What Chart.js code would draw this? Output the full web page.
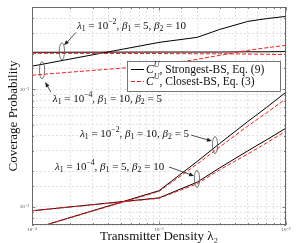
<!DOCTYPE html>
<html lang="en">
<head>
    <meta charset="UTF-8">
    <title>Coverage Probability vs Transmitter Density</title>
    <script src="https://cdn.jsdelivr.net/npm/chart.js"></script>
    <style>
        body { margin: 0; background: #fff; }
        #wrap { width: 299px; height: 243px; }
    </style>
</head>
<body>
    <div id="wrap"><canvas id="coverageChart"></canvas></div>
    <script>
        // transmitter density lambda_2 (x axis)
        const lambda2 = [1e-4, 1e-3, 2e-3, 3e-3, 5e-3, 7e-3, 1e-2];

        // lambda1 = 1e-2, beta1 = 5, beta2 = 10
        const strongA = [0.206, 0.207, 0.207, 0.207, 0.208, 0.208, 0.209];
        const closestA = [0.202, 0.201, 0.200, 0.200, 0.199, 0.198, 0.197];
        // lambda1 = 1e-4, beta1 = 10, beta2 = 5
        const strongB = [0.157, 0.250, 0.276, 0.322, 0.377, 0.398, 0.416];
        const closestB = [0.1315, 0.160, 0.1795, 0.194, 0.214, 0.225, 0.236];
        // lambda1 = 1e-2, beta1 = 10, beta2 = 5
        const strongC = [0.00646, 0.0137, 0.0243, 0.0345, 0.0531, 0.0697, 0.0944];
        const closestC = [0.00646, 0.0135, 0.0231, 0.0322, 0.0486, 0.0627, 0.0831];
        // lambda1 = 1e-4, beta1 = 5, beta2 = 10
        const strongD = [0.00925, 0.0119, 0.0162, 0.0214, 0.0299, 0.0370, 0.0467];
        const closestD = [0.00925, 0.0118, 0.0157, 0.0206, 0.0281, 0.0348, 0.0441];

        const legendLabels = ['*C*^{*U*}, Strongest-BS, Eq. (9)', '*C*^{*U*}, Closest-BS, Eq. (3)'];

        // curve labels: text anchor, arrow tail, arrow tip, ellipse centre (data coords)
        const notes = [
            { text: '*λ*_1 = 10^{-2}, *β*_1 = 5, *β*_2 = 10', at: [2.26e-4, 0.342], from: [2.22e-4, 0.304], to: [1.79e-4, 0.236], ring: [1.72e-4, 0.21] },
            { text: '*λ*_1 = 10^{-4}, *β*_1 = 10, *β*_2 = 5', at: [1.46e-4, 0.0823], from: [1.41e-4, 0.0944], to: [1.27e-4, 0.115], ring: [1.2e-4, 0.145] },
            { text: '*λ*_1 = 10^{-2}, *β*_1 = 10, *β*_2 = 5', at: [2.39e-4, 0.0416], from: [1.79e-3, 0.0407], to: [2.61e-3, 0.0362], ring: [2.76e-3, 0.0335] },
            { text: '*λ*_1 = 10^{-4}, *β*_1 = 5, *β*_2 = 10', at: [1.52e-4, 0.0218], from: [1.2e-3, 0.0218], to: [1.89e-3, 0.0183], ring: [1.99e-3, 0.0173] }
        ];

        const SERIF = '"Liberation Serif", "DejaVu Serif", serif';
        const SUP = { '-': '⁻', '0': '⁰', '1': '¹', '2': '²', '3': '³', '4': '⁴', '5': '⁵', '6': '⁶', '7': '⁷', '8': '⁸', '9': '⁹' };

        function pts(ys) {
            return ys.map((y, i) => ({ x: lambda2[i], y: y }));
        }
        function isMajor(v) {
            const l = Math.log10(v);
            return Math.abs(l - Math.round(l)) < 1e-6;
        }
        function powLabel(v) {
            if (!isMajor(v)) return '';
            return '10' + String(Math.round(Math.log10(v))).split('').map(c => SUP[c]).join('');
        }

        // tiny markup: *x* italic, _x / _{..} subscript, ^x / ^{..} superscript
        function drawMath(ctx, str, x, y, size) {
            const parts = str.match(/(\*[^*]+\*|_\{[^}]*\}|_.|\^\{[^}]*\}|\^.|[^_^*]+)/g);
            ctx.textBaseline = 'middle';
            ctx.textAlign = 'left';
            parts.forEach(p => {
                let s = p, sz = size, dy = 0;
                if (s[0] === '_' || s[0] === '^') {
                    sz = size * 0.7;
                    dy = s[0] === '_' ? size * 0.28 : -size * 0.36;
                    s = s.slice(1).replace(/^\{|\}$/g, '');
                }
                let italic = false;
                if (s[0] === '*') { italic = true; s = s.replace(/\*/g, ''); }
                s = s.replace(/-(?=\d)/g, '\u2212');
                ctx.font = (italic ? 'italic ' : '') + sz + 'px ' + SERIF;
                ctx.fillText(s, x, y + dy);
                x += ctx.measureText(s).width;
            });
        }

        const extras = {
            id: 'extras',
            afterDatasetsDraw(chart) {
                const ctx = chart.ctx;
                const a = chart.chartArea;
                const xs = chart.scales.x, ys = chart.scales.y;
                ctx.save();

                // inward tick marks on all four sides
                ctx.strokeStyle = '#6a6a6a';
                ctx.lineWidth = 0.8;
                ctx.beginPath();
                xs.ticks.forEach(t => {
                    const px = Math.round(xs.getPixelForValue(t.value)) + 0.5;
                    const len = isMajor(t.value) ? 3.5 : 2;
                    ctx.moveTo(px, a.bottom); ctx.lineTo(px, a.bottom - len);
                    ctx.moveTo(px, a.top); ctx.lineTo(px, a.top + len);
                });
                ys.ticks.forEach(t => {
                    const py = Math.round(ys.getPixelForValue(t.value)) + 0.5;
                    const len = isMajor(t.value) ? 3.5 : 2;
                    ctx.moveTo(a.left, py); ctx.lineTo(a.left + len, py);
                    ctx.moveTo(a.right, py); ctx.lineTo(a.right - len, py);
                });
                ctx.stroke();
                ctx.lineWidth = 1;
                ctx.strokeRect(a.left + 0.5, a.top + 0.5, a.right - a.left - 1, a.bottom - a.top - 1);

                // curve labels with arrows and ellipses
                notes.forEach(n => {
                    const tx = xs.getPixelForValue(n.at[0]), ty = ys.getPixelForValue(n.at[1]);
                    const fx = xs.getPixelForValue(n.from[0]), fy = ys.getPixelForValue(n.from[1]);
                    const ex = xs.getPixelForValue(n.to[0]), ey = ys.getPixelForValue(n.to[1]);
                    const rx = xs.getPixelForValue(n.ring[0]), ry = ys.getPixelForValue(n.ring[1]);

                    ctx.strokeStyle = '#555';
                    ctx.lineWidth = 0.8;
                    ctx.beginPath();
                    ctx.ellipse(rx, ry, 2.6, 8.5, 0, 0, Math.PI * 2);
                    ctx.stroke();

                    const ang = Math.atan2(ey - fy, ex - fx);
                    ctx.strokeStyle = '#222';
                    ctx.beginPath();
                    ctx.moveTo(fx, fy);
                    ctx.lineTo(ex - 3 * Math.cos(ang), ey - 3 * Math.sin(ang));
                    ctx.stroke();
                    ctx.fillStyle = '#222';
                    ctx.beginPath();
                    ctx.moveTo(ex, ey);
                    ctx.lineTo(ex - 5 * Math.cos(ang) + 2 * Math.sin(ang), ey - 5 * Math.sin(ang) - 2 * Math.cos(ang));
                    ctx.lineTo(ex - 5 * Math.cos(ang) - 2 * Math.sin(ang), ey - 5 * Math.sin(ang) + 2 * Math.cos(ang));
                    ctx.closePath();
                    ctx.fill();

                    ctx.fillStyle = '#111';
                    drawMath(ctx, n.text, tx, ty, 11);
                });

                // legend box inside the plot
                const lw = 153, lh = 30;
                const lx = a.right - 6 - lw, ly = a.top + 54;
                ctx.fillStyle = '#fff';
                ctx.fillRect(lx, ly, lw, lh);
                ctx.strokeStyle = '#555';
                ctx.lineWidth = 0.8;
                ctx.strokeRect(lx + 0.5, ly + 0.5, lw, lh);
                const samples = [chart.data.datasets[1], chart.data.datasets[0]];
                samples.forEach((ds, i) => {
                    const yy = ly + 8.5 + i * 12;
                    ctx.strokeStyle = ds.borderColor;
                    ctx.lineWidth = ds.borderWidth;
                    ctx.setLineDash(ds.borderDash || []);
                    ctx.beginPath();
                    ctx.moveTo(lx + 4, yy); ctx.lineTo(lx + 17, yy);
                    ctx.stroke();
                    ctx.setLineDash([]);
                    ctx.fillStyle = '#111';
                    drawMath(ctx, legendLabels[i], lx + 19, yy, 11.5);
                });
                ctx.restore();
            }
        };

        const solid = { borderColor: '#000', borderWidth: 1, pointRadius: 0, order: 1 };
        const dashed = { borderColor: '#ff1a1a', borderWidth: 1, borderDash: [4, 2], pointRadius: 0, order: 0 };

        new Chart(document.getElementById('coverageChart'), {
            type: 'line',
            data: {
                datasets: [
                    Object.assign({ label: 'Closest A', data: pts(closestA) }, dashed),
                    Object.assign({ label: 'Strongest A', data: pts(strongA) }, solid),
                    Object.assign({ label: 'Closest B', data: pts(closestB) }, dashed),
                    Object.assign({ label: 'Strongest B', data: pts(strongB) }, solid),
                    Object.assign({ label: 'Closest C', data: pts(closestC) }, dashed),
                    Object.assign({ label: 'Strongest C', data: pts(strongC) }, solid),
                    Object.assign({ label: 'Closest D', data: pts(closestD) }, dashed),
                    Object.assign({ label: 'Strongest D', data: pts(strongD) }, solid)
                ]
            },
            options: {
                responsive: true,
                maintainAspectRatio: false,
                animation: false,
                layout: { padding: { left: 0, top: 7, right: 13, bottom: 0 } },
                plugins: { legend: { display: false }, tooltip: { enabled: false } },
                scales: {
                    x: {
                        type: 'logarithmic',
                        min: 1e-4,
                        max: 1e-2,
                        afterFit: s => { s.height = 18; },
                        grid: { color: '#dedede', lineWidth: 0.8, drawTicks: false },
                        border: { display: false, dash: [2, 2] },
                        ticks: { autoSkip: false, maxRotation: 0, padding: 2, color: '#444', font: { size: 5, family: SERIF }, callback: v => powLabel(v) },
                        title: { display: true, text: 'Transmitter Density λ₂', color: '#111', padding: 0, font: { size: 13, family: SERIF, lineHeight: 1 } }
                    },
                    y: {
                        type: 'logarithmic',
                        min: 0.007,
                        max: 0.5,
                        afterFit: s => { s.width = 32; },
                        grid: { color: '#dedede', lineWidth: 0.8, drawTicks: false },
                        border: { display: false, dash: [2, 2] },
                        ticks: { autoSkip: false, padding: 3, color: '#444', font: { size: 5, family: SERIF }, callback: v => powLabel(v) },
                        title: { display: true, text: 'Coverage Probability', color: '#111', padding: { top: 7 }, font: { size: 13, family: SERIF, lineHeight: 1 } }
                    }
                }
            },
            plugins: [extras]
        });
    </script>
</body>
</html>
